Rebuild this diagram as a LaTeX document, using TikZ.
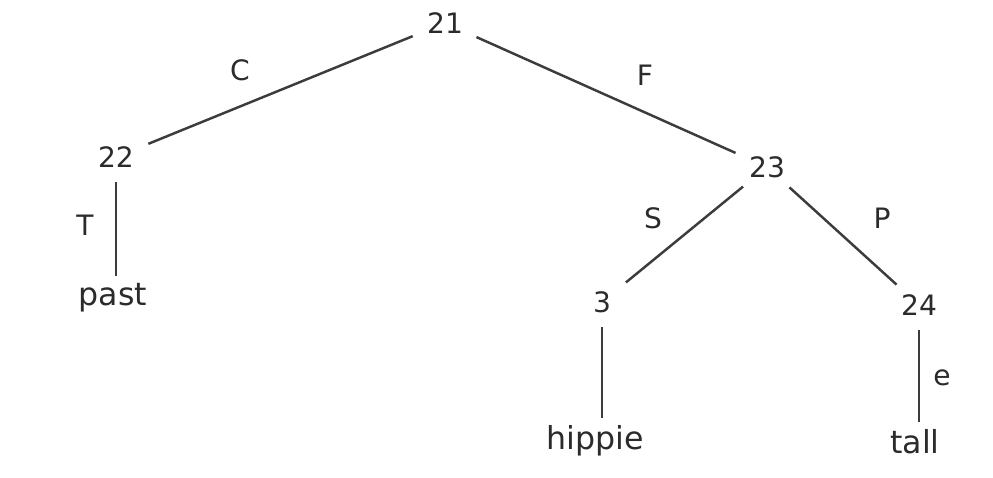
\documentclass[tikz,border=0pt]{standalone}
\usepackage{fontspec}
\setsansfont{DejaVu Sans}
\usepackage{tikz}
\usetikzlibrary{shapes.geometric}

\definecolor{ink}{HTML}{2B2B2B}
\definecolor{branchgray}{HTML}{3C3C3C}

\begin{document}
\begin{tikzpicture}[x=0.02cm, y=-0.02cm,
    every node/.style={font=\sffamily\fontsize{16}{19}\selectfont, text=ink},
    num/.style={ellipse, minimum width=1.5cm, minimum height=1cm, inner sep=0pt},
    leaf/.style={font=\sffamily\fontsize{18}{21}\selectfont, inner sep=4pt},
    branch/.style={draw=branchgray, line width=1.4pt}]

  \useasboundingbox (0,0) rectangle (993,477);

  % Numbered nodes
  \node[num] (n21) at (445,23) {21};
  \node[num] (n22) at (116,157) {22};
  \node[num] (n23) at (767,167) {23};
  \node[num] (n3) at (602,302) {3};
  \node[num] (n24) at (919,305) {24};

  % Leaves
  \node[leaf] (past) at (113,298) {past};
  \node[leaf] (hippie) at (595,441) {hippie};
  \node[leaf] (tall) at (915,442) {tall};

  % Branches
  \foreach \a/\b in {n21/n22, n21/n23, n23/n3, n23/n24} {
    \draw[branch] (\a) -- (\b);
  }
  \foreach \a/\b in {n22/past, n3/hippie, n24/tall} {
    \draw[branch] (\a) -- (\a |- \b.north);
  }

  % Branch labels
  \foreach \n/\x/\y/\t in {lC/240/70/C, lF/645/75/F, lT/85/225/T,
                           lS/653/218/S, lP/882/218/P, le/942/378/e} {
    \node (\n) at (\x,\y) {\t};
  }
\end{tikzpicture}
\end{document}
